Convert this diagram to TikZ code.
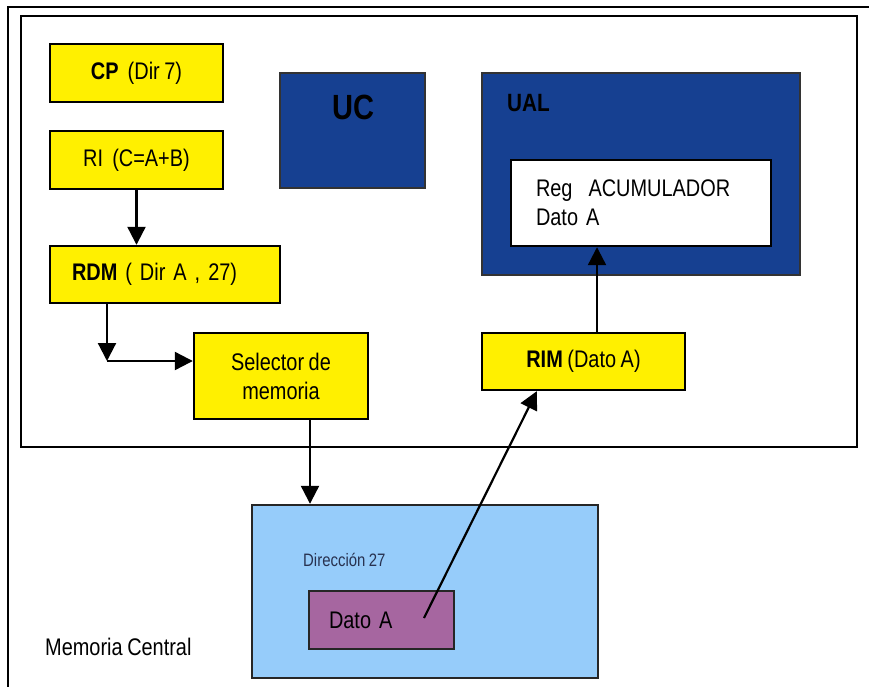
\documentclass[tikz,border=0pt]{standalone}
\usepackage{fontspec}
\setmainfont[FakeStretch=0.83, WordSpace=0.83]{Liberation Sans}
\usetikzlibrary{arrows.meta}
\definecolor{regyellow}{RGB}{255,240,0}
\definecolor{unitblue}{RGB}{22,64,145}
\definecolor{memblue}{RGB}{150,204,250}
\definecolor{datapurple}{RGB}{166,102,160}
\definecolor{addrtext}{RGB}{40,50,80}
\tikzset{
  regbox/.style={draw=black, line width=2.4pt, fill=regyellow, inner sep=0pt,
    font=\fontsize{24}{29}\selectfont, align=center},
  unitbox/.style={draw=black!80, line width=2.4pt, fill=unitblue, inner sep=0pt},
  accbox/.style={draw=black, line width=2.4pt, fill=white, inner sep=0pt,
    font=\fontsize{24}{29}\selectfont},
  membox/.style={draw=black!85, line width=2.4pt, fill=memblue, inner sep=0pt},
  databox/.style={draw=black!85, line width=2.4pt, fill=datapurple, inner sep=0pt,
    font=\fontsize{24}{29}\selectfont},
  plain/.style={inner sep=0pt, font=\fontsize{24}{29}\selectfont},
  flow/.style={line width=2.2pt, -{Triangle[length=18pt,width=18pt]}}
}
\begin{document}
\begin{tikzpicture}[x=1pt, y=-1pt]
  \useasboundingbox (0,0) rectangle (869,687);
  \fill[white] (0,0) rectangle (869,687);
  % page frame (top and left edges)
  \draw[line width=1.4pt] (869,7) -- (8,7) -- (8,687);
  % processor frame
  \draw[line width=2.6pt] (21,16) rectangle (857,447);

  % registers of the control unit
  \node[regbox, minimum width=173pt, minimum height=58pt] (cp) at (136.5,73)
    {\textbf{CP}\ \ (Dir 7)};
  \node[regbox, minimum width=173pt, minimum height=58pt] (ri) at (136.5,160)
    {RI\ \ (C=A+B)};
  \node[regbox, minimum width=230pt, minimum height=57pt, text width=186pt,
        align=left] (rdm) at (165,274.5)
    {\textbf{RDM} ( Dir A , 27)};
  \node[regbox, minimum width=174pt, minimum height=86pt] (sel) at (281,376)
    {Selector de\\memoria};
  \node[regbox, minimum width=203pt, minimum height=57pt] (rim) at (583.5,361.5)
    {\textbf{RIM} (Dato A)};

  % control unit and arithmetic unit
  \node[unitbox, minimum width=145pt, minimum height=115pt] (uc) at (352.5,130.5) {};
  \node[plain, font=\fontsize{35}{40}\selectfont\bfseries, text=black] (uctxt)
    at (353,107) {UC};
  \node[unitbox, minimum width=318pt, minimum height=202pt] (ual) at (641,174) {};
  \node[plain, font=\fontsize{25}{29}\selectfont\bfseries, anchor=west] (ualtxt)
    at (507,103) {UAL};
  \node[accbox, minimum width=260pt, minimum height=86pt, text width=210pt,
        align=left] (acc) at (641,203)
    {Reg\ \ ACUMULADOR\\Dato A};

  % central memory
  \node[membox, minimum width=346pt, minimum height=173pt] (mem) at (425,591.5) {};
  \node[plain, font=\fontsize{18}{21}\selectfont, text=addrtext, anchor=west]
    (addr) at (303,560) {Dirección 27};
  \node[databox, minimum width=145pt, minimum height=58pt, text width=105pt,
        align=left] (dato) at (381.5,620) {Dato A};
  \node[plain, anchor=west] (memlbl) at (45,647) {Memoria Central};

  % connectors
  \coordinate (bend) at (107,361);
  \coordinate (selx) at (310,0);
  \coordinate (rimx) at (597,0);
  \coordinate (dsrc) at (424,618);
  \draw[flow] (ri) -- (rdm.north -| ri);
  \draw[flow] (rdm.south -| bend) -- (bend);
  \draw[flow] (bend) -- (bend -| sel.west);
  \draw[flow] (sel.south -| selx) -- (mem.north -| selx);
  \draw[flow] (rim.north -| rimx) -- (acc.south -| rimx);
  \draw[flow] (dsrc) -- ([xshift=56pt]rim.south west);
\end{tikzpicture}
\end{document}
